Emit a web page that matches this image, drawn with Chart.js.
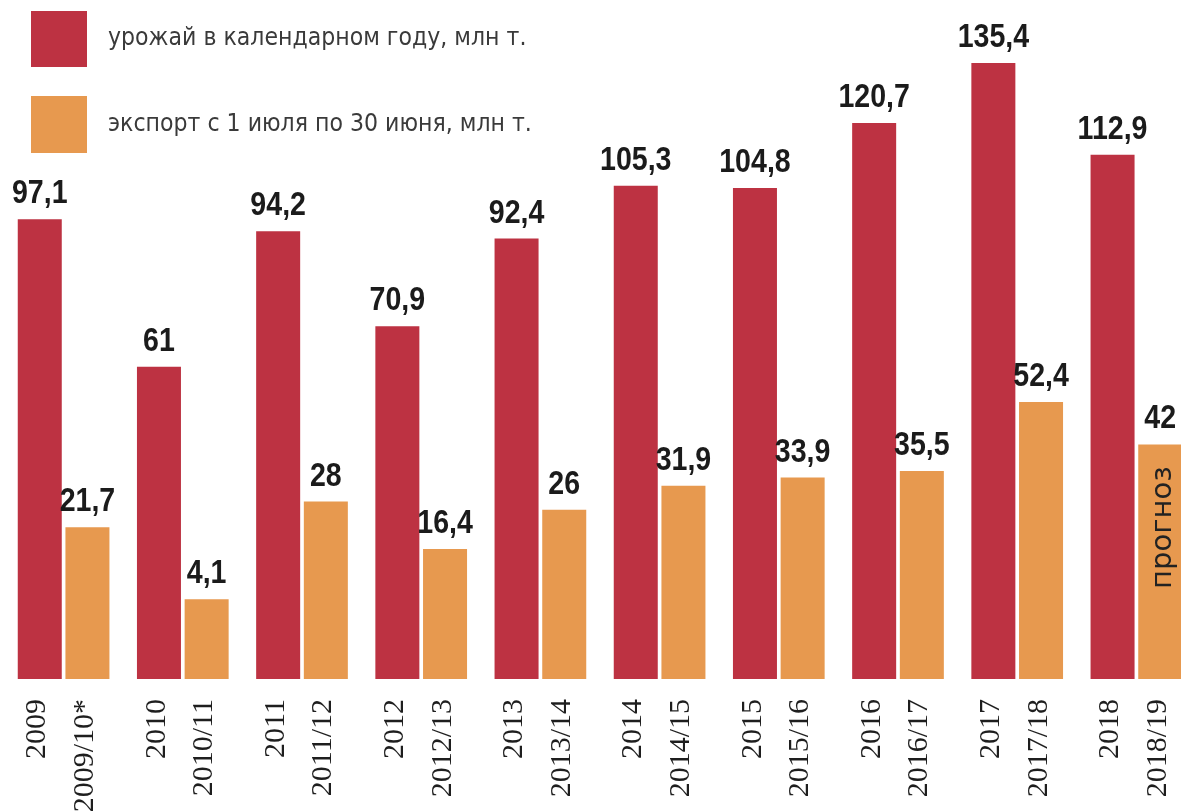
<!DOCTYPE html>
<html><head><meta charset="utf-8">
<script src="https://cdn.jsdelivr.net/npm/chart.js@4"></script>
<style>html,body{margin:0;padding:0;background:#fff;overflow:hidden}
#wrap{position:relative;width:1200px;height:811px}</style>
</head><body><div id="wrap"><canvas id="c" width="1200" height="811"></canvas></div>
<script>
const years = ['2009','2010','2011','2012','2013','2014','2015','2016','2017','2018'];
const seasons = ['2009/10*','2010/11','2011/12','2012/13','2013/14','2014/15','2015/16','2016/17','2017/18','2018/19'];
const harvest = [97.1, 61, 94.2, 70.9, 92.4, 105.3, 104.8, 120.7, 135.4, 112.9];
const exportVals = [21.7, 4.1, 28, 16.4, 26, 31.9, 33.9, 35.5, 52.4, 42];
const harvestLabel = 'урожай в календарном году, млн т.';
const exportLabel = 'экспорт с 1 июля по 30 июня, млн т.';
const forecastNote = 'прогноз';
const forecastIndex = 9;
const yMin = -15.43, yMax = 150.8;
const RED = '#bd3242', ORANGE = '#e7994f';

const valueLabels = {
  id: 'valueLabels',
  afterDatasetsDraw(chart) {
    const ctx = chart.ctx;
    chart.data.datasets.forEach((ds, di) => {
      chart.getDatasetMeta(di).data.forEach((el, i) => {
        ctx.save();
        ctx.font = 'bold 34px "Liberation Sans", Arial, sans-serif';
        ctx.fillStyle = '#1b1b1b';
        ctx.textAlign = 'center';
        ctx.textBaseline = 'alphabetic';
        ctx.translate(el.x, el.y - 16);
        ctx.scale(0.84, 1);
        ctx.fillText(String(ds.data[i]).replace('.', ','), 0, 0);
        ctx.restore();
      });
    });
    // forecast note inside last export bar
    const el = chart.getDatasetMeta(1).data[forecastIndex];
    ctx.save();
    ctx.translate(el.x + 3, el.y + 22);
    ctx.rotate(-Math.PI / 2);
    ctx.font = '29px "DejaVu Sans", sans-serif';
    ctx.fillStyle = '#222';
    ctx.textAlign = 'right';
    ctx.textBaseline = 'middle';
    ctx.fillText(forecastNote, 0, 0);
    ctx.restore();
  }
};

const customLegend = {
  id: 'customLegend',
  afterDraw(chart) {
    const ctx = chart.ctx;
    const rows = [[11, 56], [96, 57]];
    chart.data.datasets.forEach((ds, i) => {
      const [top, h] = rows[i];
      ctx.save();
      ctx.fillStyle = ds.backgroundColor;
      ctx.fillRect(31, top, 56, h);
      ctx.font = '24px "DejaVu Sans", sans-serif';
      ctx.fillStyle = '#3a3a3a';
      ctx.textAlign = 'left';
      ctx.textBaseline = 'middle';
      ctx.translate(108, top + h / 2);
      ctx.scale(0.92, 1);
      ctx.fillText(ds.label, 0, 0);
      ctx.restore();
    });
  }
};

new Chart(document.getElementById('c'), {
  type: 'bar',
  data: {
    labels: years.map((y, i) => [y, seasons[i]]),
    datasets: [
      { label: harvestLabel, data: harvest, backgroundColor: RED, base: yMin,
        barPercentage: 0.923, categoryPercentage: 0.8, borderWidth: 0 },
      { label: exportLabel, data: exportVals, backgroundColor: ORANGE, base: yMin,
        barPercentage: 0.923, categoryPercentage: 0.8, borderWidth: 0 }
    ]
  },
  options: {
    responsive: false,
    devicePixelRatio: 1,
    animation: false,
    layout: { padding: { left: 4, right: 4, top: 0, bottom: 0 } },
    plugins: { legend: { display: false }, tooltip: { enabled: false } },
    scales: {
      x: {
        grid: { display: false, drawTicks: false },
        border: { display: false },
        ticks: {
          autoSkip: false, minRotation: 90, maxRotation: 90, padding: 20,
          labelOffset: -26,
          color: '#1e1e1e',
          font: { family: '"Liberation Serif", serif', size: 30, lineHeight: 1.583 }
        },
        afterFit(s) { s.height = 132; s.paddingLeft = 0; s.paddingRight = 0; }
      },
      y: { display: false, min: yMin, max: yMax }
    }
  },
  plugins: [valueLabels, customLegend]
});
</script></body></html>
